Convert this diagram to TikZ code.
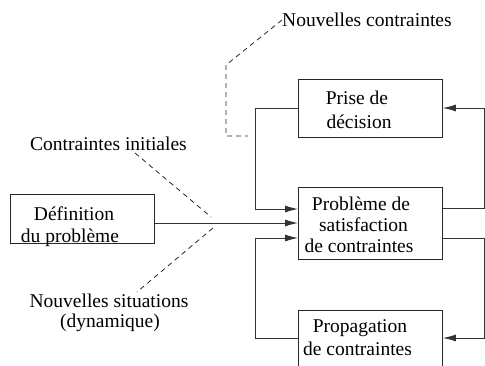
\documentclass[tikz,border=0pt]{standalone}
\usepackage{fontspec}
\setmainfont{Liberation Serif}
\usetikzlibrary{arrows.meta}
\begin{document}
\begin{tikzpicture}[x=1pt,y=-1pt,
  every node/.style={font=\fontsize{19.5}{22}\selectfont, inner sep=0pt},
  txt/.style={anchor=base},
  boxnode/.style={draw=black!85, line width=0.9pt, anchor=north west},
  conn/.style={draw=black!80, line width=0.9pt},
  arr/.style={conn, -{Latex[length=13pt,width=7pt]}},
  dsh/.style={draw=black!85, line width=0.8pt, dash pattern=on 5pt off 4pt}]
\useasboundingbox (0,0) rectangle (485,365);
% boxes
\node[boxnode, minimum width=144pt, minimum height=58pt] (pd) at (298,79) {};
\node[boxnode, minimum width=144pt, minimum height=72pt] (csp) at (298,187) {};
\node[boxnode, minimum width=144pt, minimum height=70pt] (pc) at (298,310) {};
\node[boxnode, minimum width=144pt, minimum height=49pt] (def) at (10,194) {};
% texts
\node[txt] (pd1) at (357,104) {Prise de};
\node[txt] (pd2) at (359,128) {décision};
\node[txt] (csp1) at (361,210) {Problème de};
\node[txt] (csp2) at (363.5,231) {satisfaction};
\node[txt] (csp3) at (359,252) {de contraintes};
\node[txt] (pc1) at (360,332) {Propagation};
\node[txt] (pc2) at (357.5,355) {de contraintes};
\node[txt] (def1) at (74,220) {Définition};
\node[txt] (def2) at (70,242) {du problème};
\node[txt, anchor=base west] (nc) at (282,26) {Nouvelles contraintes};
\node[txt] (ci) at (108.5,150) {Contraintes initiales};
\node[txt] (ns1) at (109,307) {Nouvelles situations};
\node[txt] (ns2) at (110,327) {(dynamique)};
% coordinates
\coordinate (lx1) at (255,108);
\coordinate (lx2) at (255,338);
\coordinate (rx1) at (484.5,108);
\coordinate (rx2) at (484.5,338);
% connectors
\draw[arr] (def.east |- 0,223) -- (csp.west |- 0,223);
\draw[arr] (pd.west |- lx1) -- (lx1) -- (255,209) -- (csp.west |- 0,209);
\draw[arr] (pc.west |- lx2) -- (lx2) -- (255,238) -- (csp.west |- 0,238);
\draw[arr] (csp.east |- 0,208.5) -- (rx1 |- 0,208.5) -- (rx1) -- (pd.east |- rx1);
\draw[arr] (csp.east |- 0,238) -- (rx2 |- 0,238) -- (rx2) -- (pc.east |- rx2);
% dashed
\draw[dsh] (nc.base west) ++(0,-6) -- (226,65) -- (226,136) -- (248,136);
\draw[dsh] (135,153) -- (211,217);
\draw[dsh] (213,228) -- (137,292);
\end{tikzpicture}
\end{document}
